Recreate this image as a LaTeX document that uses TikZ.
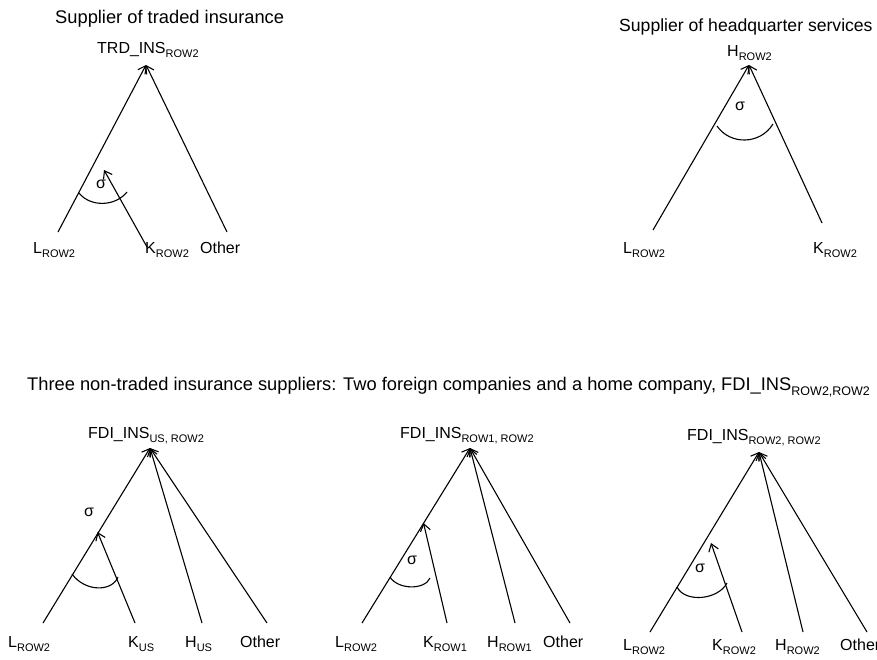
\documentclass[tikz,border=0pt]{standalone}
\usepackage{fontspec}
\setmainfont{Liberation Sans}
\usetikzlibrary{arrows.meta}
\newcommand{\sbs}[1]{\raisebox{-4pt}{\fontsize{11}{12}\selectfont #1}}
\newcommand{\sbt}[1]{\raisebox{-4.5pt}{\fontsize{12.5}{14}\selectfont #1}}
\begin{document}
\begin{tikzpicture}[x=1pt,y=-1pt,
  lbl/.style={anchor=base west,inner sep=0pt,font=\fontsize{16}{19}\selectfont},
  ttl/.style={anchor=base west,inner sep=0pt,font=\fontsize{18.3}{22}\selectfont},
  sig/.style={inner sep=0pt,font=\fontsize{16}{19}\selectfont},
  arr/.style={line width=1.1pt,-{Straight Barb[length=7pt,width=10pt,line width=1.1pt]}},
  arcl/.style={line width=1.1pt}]
\useasboundingbox (0,0) rectangle (877,659);

% ---------- Top-left: traded insurance ----------
\node[ttl] (t1) at (55,23.5) {Supplier of traded insurance};
\node[lbl] (trd) at (97,53.5) {TRD\_INS\sbs{ROW2}};
\node[lbl] (l1) at (33,253) {L\sbs{ROW2}};
\node[lbl] (k1) at (145,253) {K\sbs{ROW2}};
\node[lbl] (o1) at (200,253) {Other};
\coordinate (a1) at (146,65);
\coordinate (l1b) at (58,232);
\coordinate (o1b) at (227,232);
\coordinate (k1b) at (147,247);
\coordinate (k1t) at (104,170);
\draw[arr] (l1b) -- (a1);
\draw[arr] (o1b) -- (a1);
\draw[arr] (k1b) -- (k1t);
\draw[arcl] (79,193) .. controls (90,207) and (115,207) .. (127,192);
\node[sig] (s1) at (101,184) {σ};

% ---------- Top-right: headquarter services ----------
\node[ttl,font=\fontsize{17.6}{21}\selectfont] (t2) at (619,31.5) {Supplier of headquarter services};
\node[lbl] (h2) at (727,56.5) {H\sbs{ROW2}};
\node[lbl] (l2) at (623,253) {L\sbs{ROW2}};
\node[lbl] (k2) at (813,253) {K\sbs{ROW2}};
\coordinate (a2) at (749,65);
\coordinate (l2b) at (653,230);
\coordinate (k2b) at (822,223);
\draw[arr] (l2b) -- (a2);
\draw[arr] (k2b) -- (a2);
\draw[arcl] (717,126) .. controls (730,145) and (760,145) .. (773,124);
\node[sig] (s2) at (740,106) {σ};

% ---------- Bottom title ----------
\node[ttl] (t3) at (27,390.5) {Three non-traded insurance suppliers: Two foreign companies and a home company, FDI\_INS\sbt{ROW2,ROW2}};

% ---------- Bottom-left: US ----------
\node[lbl] (f3) at (88,438) {FDI\_INS\sbs{US, ROW2}};
\node[lbl] (l3) at (8,647) {L\sbs{ROW2}};
\node[lbl] (k3) at (128,647) {K\sbs{US}};
\node[lbl] (h3) at (185,647) {H\sbs{US}};
\node[lbl] (o3) at (240,647) {Other};
\coordinate (a3) at (150,448);
\coordinate (l3b) at (43,623);
\coordinate (k3b) at (135,623);
\coordinate (k3t) at (97.5,532);
\coordinate (h3b) at (202,623);
\coordinate (o3b) at (267,623);
\draw[arr] (l3b) -- (a3);
\draw[arr] (h3b) -- (a3);
\draw[arr] (o3b) -- (a3);
\draw[arr] (k3b) -- (k3t);
\draw[arcl] (72,574) .. controls (85,592) and (112,592) .. (118,577);
\node[sig] (s3) at (89,512) {σ};

% ---------- Bottom-middle: ROW1 ----------
\node[lbl] (f4) at (400,438) {FDI\_INS\sbs{ROW1, ROW2}};
\node[lbl] (l4) at (335,647) {L\sbs{ROW2}};
\node[lbl] (k4) at (423,647) {K\sbs{ROW1}};
\node[lbl] (h4) at (487,647) {H\sbs{ROW1}};
\node[lbl] (o4) at (543,647) {Other};
\coordinate (a4) at (470,448);
\coordinate (l4b) at (362,623);
\coordinate (k4b) at (447,623);
\coordinate (k4t) at (423.5,523);
\coordinate (h4b) at (515,623);
\coordinate (o4b) at (570,623);
\draw[arr] (l4b) -- (a4);
\draw[arr] (h4b) -- (a4);
\draw[arr] (o4b) -- (a4);
\draw[arr] (k4b) -- (k4t);
\draw[arcl] (390,577) .. controls (398,590) and (425,590) .. (430,578);
\node[sig] (s4) at (412,560) {σ};

% ---------- Bottom-right: ROW2 ----------
\node[lbl] (f5) at (687,440) {FDI\_INS\sbs{ROW2, ROW2}};
\node[lbl] (l5) at (623,650) {L\sbs{ROW2}};
\node[lbl] (k5) at (712,650) {K\sbs{ROW2}};
\node[lbl] (h5) at (775,650) {H\sbs{ROW2}};
\node[lbl] (o5) at (840,650) {Other};
\coordinate (a5) at (759,452);
\coordinate (l5b) at (650,632);
\coordinate (k5b) at (742,632);
\coordinate (k5t) at (711,543);
\coordinate (h5b) at (803,632);
\coordinate (o5b) at (867,632);
\draw[arr] (l5b) -- (a5);
\draw[arr] (h5b) -- (a5);
\draw[arr] (o5b) -- (a5);
\draw[arr] (k5b) -- (k5t);
\draw[arcl] (677,587) .. controls (685,603) and (718,600) .. (727,583);
\node[sig] (s5) at (700,568) {σ};
\end{tikzpicture}
\end{document}
